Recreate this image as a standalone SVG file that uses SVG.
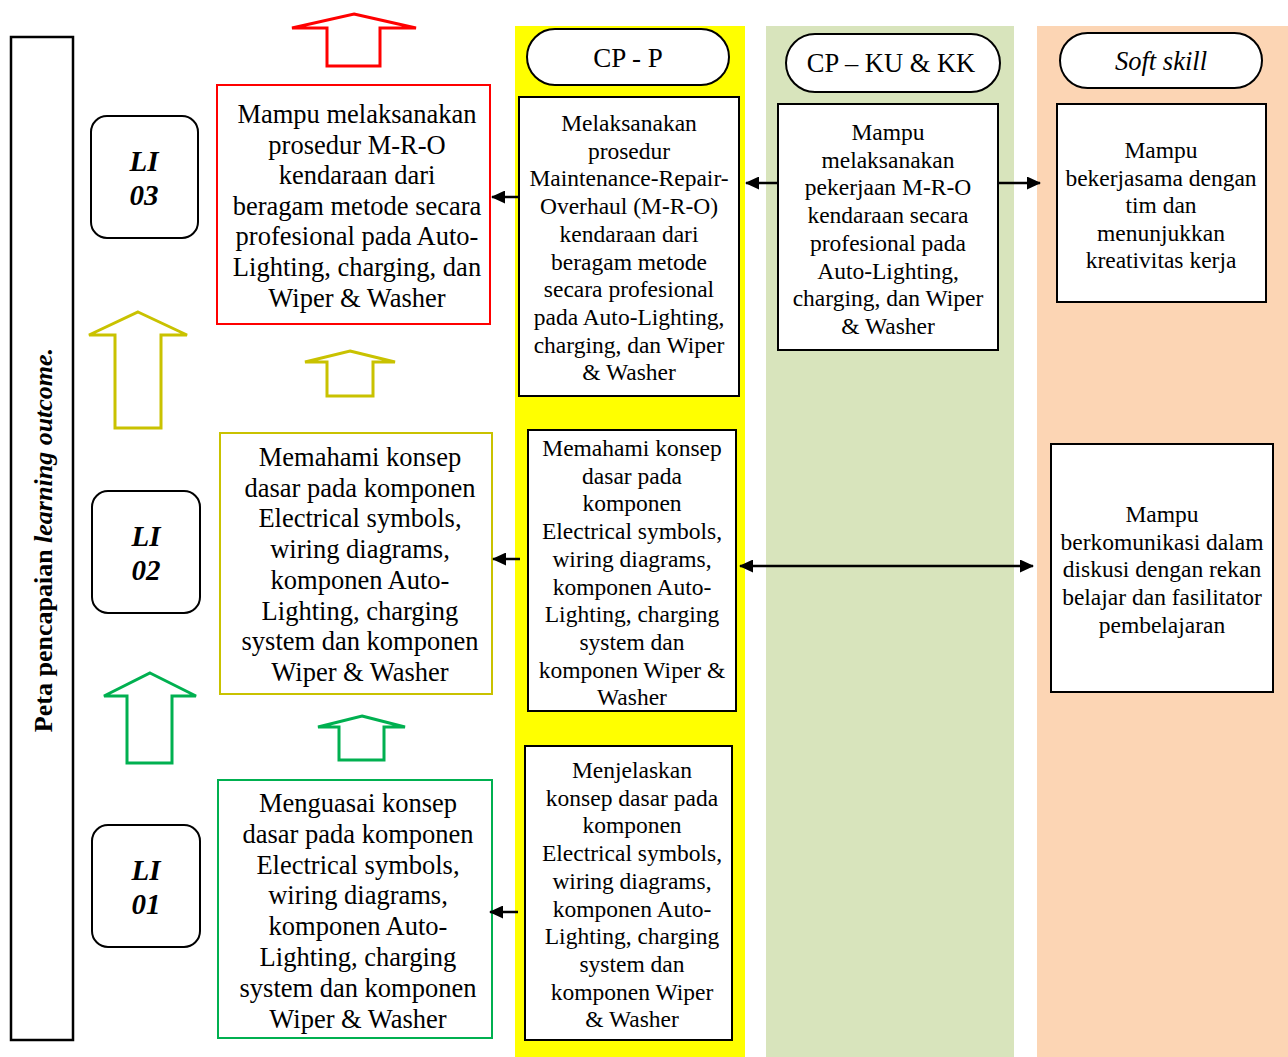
<svg xmlns="http://www.w3.org/2000/svg" width="1288" height="1057" viewBox="0 0 1288 1057">
<defs>
<marker id="ah" markerWidth="14" markerHeight="13" refX="13" refY="6.5" orient="auto" markerUnits="userSpaceOnUse" viewBox="0 0 14 13">
<path d="M0,0 L14,6.5 L0,13 z" fill="#000"/>
</marker>
<marker id="ahs" markerWidth="14" markerHeight="13" refX="1" refY="6.5" orient="auto" markerUnits="userSpaceOnUse" viewBox="0 0 14 13">
<path d="M14,0 L0,6.5 L14,13 z" fill="#000"/>
</marker>
</defs>
<style>
text{font-family:"Liberation Serif","Times New Roman",serif;fill:#000;text-anchor:middle}
.big{font-size:26.5px}
.sm{font-size:23.5px}
.box{fill:#fff;stroke:#000;stroke-width:2}
.pill{fill:#fff;stroke:#000;stroke-width:2}
.li{font-size:29px;font-weight:bold;font-style:italic}
.conn{stroke:#000;stroke-width:2.5;fill:none}
</style>
<rect width="1288" height="1057" fill="#fff"/>
<g id="columns">
<rect x="515" y="26" width="230" height="1031" fill="#FFFF00"/>
<rect x="766" y="26" width="248" height="1031" fill="#D8E4BC"/>
<rect x="1037" y="26" width="251" height="1031" fill="#FCD5B4"/>
</g>
<g id="side-label">
<rect x="11" y="37" width="62" height="1003" fill="#fff" stroke="#000" stroke-width="2.5"/>
<text transform="translate(52,540) rotate(-90)" style="font-size:26px;font-weight:bold">Peta pencapaian <tspan font-style="italic">learning outcome.</tspan></text>
</g>
<g id="hdr-cpp">
<rect class="pill" x="527" y="29" width="202" height="56" rx="28"/>
<text x="628" y="67" style="font-size:27px">CP - P</text>
</g>
<g id="hdr-cpku">
<rect class="pill" x="786" y="34" width="214" height="58" rx="29"/>
<text class="big" x="891" y="72">CP – KU &amp; KK</text>
</g>
<g id="hdr-soft">
<rect class="pill" x="1060" y="33" width="202" height="55" rx="27.5"/>
<text class="big" x="1161" y="70" font-style="italic">Soft skill</text>
</g>
<g id="li03">
<rect class="box" x="91" y="116" width="107" height="122" rx="16"/>
<text class="li" x="144" y="171">LI</text>
<text class="li" x="144" y="205">03</text>
</g>
<g id="li02">
<rect class="box" x="92" y="491" width="108" height="122" rx="16"/>
<text class="li" x="146" y="546">LI</text>
<text class="li" x="146" y="580">02</text>
</g>
<g id="li01">
<rect class="box" x="92" y="825" width="108" height="122" rx="16"/>
<text class="li" x="146" y="880">LI</text>
<text class="li" x="146" y="914">01</text>
</g>
<g id="lo3">
<rect x="217" y="85" width="273" height="239" fill="#fff" stroke="#FF0000" stroke-width="2"/>
<text class="big"><tspan x="357" y="123">Mampu melaksanakan</tspan><tspan x="357" y="153.6">prosedur M-R-O</tspan><tspan x="357" y="184.2">kendaraan dari</tspan><tspan x="357" y="214.8">beragam metode secara</tspan><tspan x="357" y="245.4">profesional pada Auto-</tspan><tspan x="357" y="276">Lighting, charging, dan</tspan><tspan x="357" y="306.6">Wiper &amp; Washer</tspan></text>
</g>
<g id="lo2">
<rect x="220" y="433" width="272" height="261" fill="#fff" stroke="#C9C200" stroke-width="2"/>
<text class="big"><tspan x="360" y="466">Memahami konsep</tspan><tspan x="360" y="496.7">dasar pada komponen</tspan><tspan x="360" y="527.4">Electrical symbols,</tspan><tspan x="360" y="558.1">wiring diagrams,</tspan><tspan x="360" y="588.8">komponen Auto-</tspan><tspan x="360" y="619.5">Lighting, charging</tspan><tspan x="360" y="650.2">system dan komponen</tspan><tspan x="360" y="680.9">Wiper &amp; Washer</tspan></text>
</g>
<g id="lo1">
<rect x="218" y="780" width="274" height="258" fill="#fff" stroke="#00B050" stroke-width="2"/>
<text class="big"><tspan x="358" y="812">Menguasai konsep</tspan><tspan x="358" y="842.8">dasar pada komponen</tspan><tspan x="358" y="873.6">Electrical symbols,</tspan><tspan x="358" y="904.4">wiring diagrams,</tspan><tspan x="358" y="935.2">komponen Auto-</tspan><tspan x="358" y="966">Lighting, charging</tspan><tspan x="358" y="996.8">system dan komponen</tspan><tspan x="358" y="1027.6">Wiper &amp; Washer</tspan></text>
</g>
<g id="cpp3">
<rect class="box" x="519" y="97" width="220" height="299"/>
<text class="sm"><tspan x="629" y="131">Melaksanakan</tspan><tspan x="629" y="158.7">prosedur</tspan><tspan x="629" y="186.4">Maintenance-Repair-</tspan><tspan x="629" y="214.1">Overhaul (M-R-O)</tspan><tspan x="629" y="241.8">kendaraan dari</tspan><tspan x="629" y="269.5">beragam metode</tspan><tspan x="629" y="297.2">secara profesional</tspan><tspan x="629" y="324.9">pada Auto-Lighting,</tspan><tspan x="629" y="352.6">charging, dan Wiper</tspan><tspan x="629" y="380.3">&amp; Washer</tspan></text>
</g>
<g id="cpku3">
<rect class="box" x="778" y="104" width="220" height="246"/>
<text class="sm"><tspan x="888" y="140">Mampu</tspan><tspan x="888" y="167.7">melaksanakan</tspan><tspan x="888" y="195.4">pekerjaan M-R-O</tspan><tspan x="888" y="223.1">kendaraan secara</tspan><tspan x="888" y="250.8">profesional pada</tspan><tspan x="888" y="278.5">Auto-Lighting,</tspan><tspan x="888" y="306.2">charging, dan Wiper</tspan><tspan x="888" y="333.9">&amp; Washer</tspan></text>
</g>
<g id="soft3">
<rect class="box" x="1057" y="104" width="209" height="198"/>
<text class="sm"><tspan x="1161" y="158">Mampu</tspan><tspan x="1161" y="185.5">bekerjasama dengan</tspan><tspan x="1161" y="213">tim dan</tspan><tspan x="1161" y="240.5">menunjukkan</tspan><tspan x="1161" y="268">kreativitas kerja</tspan></text>
</g>
<g id="cpp2">
<rect class="box" x="528" y="430" width="208" height="281"/>
<text class="sm"><tspan x="632" y="456">Memahami konsep</tspan><tspan x="632" y="483.7">dasar pada</tspan><tspan x="632" y="511.4">komponen</tspan><tspan x="632" y="539.1">Electrical symbols,</tspan><tspan x="632" y="566.8">wiring diagrams,</tspan><tspan x="632" y="594.5">komponen Auto-</tspan><tspan x="632" y="622.2">Lighting, charging</tspan><tspan x="632" y="649.9">system dan</tspan><tspan x="632" y="677.6">komponen Wiper &amp;</tspan><tspan x="632" y="705.3">Washer</tspan></text>
</g>
<g id="soft2">
<rect class="box" x="1051" y="444" width="222" height="248"/>
<text class="sm"><tspan x="1162" y="522">Mampu</tspan><tspan x="1162" y="549.7">berkomunikasi dalam</tspan><tspan x="1162" y="577.4">diskusi dengan rekan</tspan><tspan x="1162" y="605.1">belajar dan fasilitator</tspan><tspan x="1162" y="632.8">pembelajaran</tspan></text>
</g>
<g id="cpp1">
<rect class="box" x="525" y="746" width="207" height="294"/>
<text class="sm"><tspan x="632" y="778">Menjelaskan</tspan><tspan x="632" y="805.7">konsep dasar pada</tspan><tspan x="632" y="833.4">komponen</tspan><tspan x="632" y="861.1">Electrical symbols,</tspan><tspan x="632" y="888.8">wiring diagrams,</tspan><tspan x="632" y="916.5">komponen Auto-</tspan><tspan x="632" y="944.2">Lighting, charging</tspan><tspan x="632" y="971.9">system dan</tspan><tspan x="632" y="999.6">komponen Wiper</tspan><tspan x="632" y="1027.3">&amp; Washer</tspan></text>
</g>
<g id="progress-arrows" fill="none" stroke-width="3" stroke-linejoin="miter">
<path d="M354,14 L416,28 L380,28 L380,66 L327,66 L327,28 L292,28 Z" stroke="#FF0000"/>
<path d="M138,312 L187,335 L161,335 L161,428 L115,428 L115,335 L89,335 Z" stroke="#C9C200"/>
<path d="M350,351 L395,362 L373,362 L373,396 L327,396 L327,362 L305,362 Z" stroke="#C9C200"/>
<path d="M150,673 L196,696 L172,696 L172,763 L127,763 L127,696 L104,696 Z" stroke="#00B050"/>
<path d="M362,716 L405,727 L384,727 L384,760 L339,760 L339,727 L318,727 Z" stroke="#00B050"/>
</g>
<g id="connectors">
<line class="conn" x1="519" y1="197" x2="492" y2="197" marker-end="url(#ah)"/>
<line class="conn" x1="778" y1="183" x2="746" y2="183" marker-end="url(#ah)"/>
<line class="conn" x1="998" y1="183" x2="1040" y2="183" marker-end="url(#ah)"/>
<line class="conn" x1="520" y1="559" x2="493" y2="559" marker-end="url(#ah)"/>
<line class="conn" x1="740" y1="566" x2="1033" y2="566" marker-start="url(#ahs)" marker-end="url(#ah)"/>
<line class="conn" x1="518" y1="912" x2="490" y2="912" marker-end="url(#ah)"/>
</g>
</svg>
